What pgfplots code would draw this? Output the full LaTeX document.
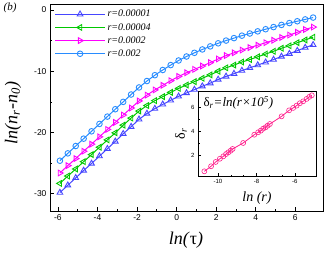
\documentclass[border=0pt]{standalone}
\usepackage{fontspec}
\setmainfont{Liberation Serif}
\setsansfont{Liberation Sans}
\usepackage{pgfplots}
\pgfplotsset{compat=1.18}
\definecolor{cB}{RGB}{70,70,255}
\definecolor{cG}{RGB}{0,200,0}
\definecolor{cM}{RGB}{255,0,255}
\definecolor{cC}{RGB}{40,140,255}
\definecolor{cP}{RGB}{255,30,140}
\begin{document}
\begin{tikzpicture}
\useasboundingbox (0pt,0pt) rectangle (329pt,252pt);
\begin{axis}[
  at={(50pt,41pt)}, anchor=south west, scale only axis,
  width=273pt, height=206pt,
  xmin=-6.4, xmax=7.4, ymin=-32.8, ymax=0.8,
  xtick={-6,-4,-2,0,2,4,6}, ytick={-30,-20,-10,0},
  minor x tick num=1, minor y tick num=1,
  xtick pos=bottom, ytick pos=left, tick align=inside,
  major tick length=4pt, minor tick length=2pt,
  tick style={black, line width=0.7pt},
  axis line style={line width=1pt},
  ticklabel style={font=\sffamily\fontsize{8.5}{9}\selectfont},
  /pgf/number format/assume math mode=true,
  legend style={at={(0.005,0.995)}, anchor=north west, draw=none, fill=none,
    font=\itshape\fontsize{10}{11}\selectfont, row sep=1pt},
  legend cell align=left,
  legend image code/.code={\draw[mark repeat=2,mark phase=2] plot coordinates {(0pt,0pt)(25pt,0pt)(50pt,0pt)};},
]
\addplot[cB, line width=1pt, mark=triangle, mark size=3.3pt, mark options={solid, line width=0.9pt}] coordinates {
(-5.9,-29.8)(-5.5,-28.6)(-5.1,-27.4)(-4.7,-26.2)(-4.3,-25.05)(-3.9,-23.85)(-3.5,-22.65)(-3.1,-21.45)(-2.7,-20.2)(-2.3,-19.05)(-1.9,-17.85)(-1.5,-16.9)(-1.1,-16.1)(-0.7,-15.4)(-0.3,-14.75)(0.1,-14.1)(0.5,-13.55)(0.9,-13.0)(1.3,-12.45)(1.7,-11.95)(2.1,-11.35)(2.5,-10.85)(2.9,-10.4)(3.3,-9.9)(3.7,-9.45)(4.1,-9.0)(4.5,-8.55)(4.9,-8.1)(5.3,-7.6)(5.7,-7.15)(6.1,-6.65)(6.5,-6.15)(6.9,-5.7)};
\addlegendentry{r=0.00001}
\addplot[cG, line width=1pt, mark=triangle, mark size=3.3pt, mark options={solid, rotate=90, line width=0.9pt}] coordinates {
(-5.9,-28.3)(-5.5,-27.1)(-5.1,-25.95)(-4.7,-24.75)(-4.3,-23.6)(-3.9,-22.4)(-3.5,-21.2)(-3.1,-20.05)(-2.7,-18.8)(-2.3,-17.65)(-1.9,-16.5)(-1.5,-15.6)(-1.1,-14.8)(-0.7,-14.15)(-0.3,-13.45)(0.1,-12.8)(0.5,-12.25)(0.9,-11.7)(1.3,-11.15)(1.7,-10.6)(2.1,-10.0)(2.5,-9.45)(2.9,-9.0)(3.3,-8.5)(3.7,-8.1)(4.1,-7.65)(4.5,-7.2)(4.9,-6.75)(5.3,-6.25)(5.7,-5.85)(6.1,-5.35)(6.5,-4.9)(6.9,-4.45)};
\addlegendentry{r=0.00004}
\addplot[cM, line width=1pt, mark=triangle, mark size=3.3pt, mark options={solid, rotate=-90, line width=0.9pt}] coordinates {
(-5.9,-26.6)(-5.5,-25.4)(-5.1,-24.25)(-4.7,-23.05)(-4.3,-21.9)(-3.9,-20.7)(-3.5,-19.5)(-3.1,-18.35)(-2.7,-17.15)(-2.3,-16.0)(-1.9,-14.85)(-1.5,-13.9)(-1.1,-13.05)(-0.7,-12.3)(-0.3,-11.55)(0.1,-10.85)(0.5,-10.25)(0.9,-9.7)(1.3,-9.15)(1.7,-8.6)(2.1,-8.0)(2.5,-7.45)(2.9,-7.0)(3.3,-6.55)(3.7,-6.15)(4.1,-5.75)(4.5,-5.35)(4.9,-4.95)(5.3,-4.5)(5.7,-4.1)(6.1,-3.65)(6.5,-3.2)(6.9,-2.8)};
\addlegendentry{r=0.0002}
\addplot[cC, line width=1pt, mark=o, mark size=2.8pt, mark options={solid, line width=0.9pt}] coordinates {
(-5.9,-24.6)(-5.5,-23.4)(-5.1,-22.2)(-4.7,-21.0)(-4.3,-19.8)(-3.9,-18.6)(-3.5,-17.4)(-3.1,-16.2)(-2.7,-15.0)(-2.3,-13.8)(-1.9,-12.65)(-1.5,-11.6)(-1.1,-10.65)(-0.7,-9.8)(-0.3,-9.0)(0.1,-8.25)(0.5,-7.6)(0.9,-7.0)(1.3,-6.45)(1.7,-5.95)(2.1,-5.45)(2.5,-5.0)(2.9,-4.6)(3.3,-4.2)(3.7,-3.85)(4.1,-3.5)(4.5,-3.15)(4.9,-2.8)(5.3,-2.45)(5.7,-2.15)(6.1,-1.85)(6.5,-1.55)(6.9,-1.25)};
\addlegendentry{r=0.002}
\end{axis}
\begin{axis}[
  at={(198pt,76pt)}, anchor=south west, scale only axis,
  width=118pt, height=85pt,
  xmin=-11.04, xmax=-4.9, ymin=0.25, ymax=7.33,
  xtick={-10,-8,-6}, ytick={2,4,6},
  minor x tick num=2, minor y tick num=1,
  xtick pos=bottom, ytick pos=left, tick align=inside,
  major tick length=3pt, minor tick length=1.5pt,
  tick style={black, line width=0.5pt},
  axis line style={line width=0.9pt},
  axis background/.style={fill=white},
  ticklabel style={font=\sffamily\fontsize{6}{7}\selectfont},
  /pgf/number format/assume math mode=true,
]
\addplot[cP, line width=0.8pt, mark=o, mark size=2.5pt, mark options={solid, line width=0.6pt}] coordinates {
(-10.71,0.64)(-10.36,1.06)(-10.12,1.42)(-9.90,1.69)(-9.72,1.89)(-9.58,2.08)(-9.46,2.22)(-9.34,2.36)(-9.24,2.5)(-8.69,3.0)(-8.11,3.69)(-7.91,3.89)(-7.77,4.03)(-7.65,4.19)(-7.52,4.31)(-7.42,4.44)(-7.30,4.58)(-6.69,5.22)(-6.30,5.72)(-6.09,5.92)(-5.91,6.11)(-5.74,6.31)(-5.57,6.47)(-5.39,6.67)(-5.25,6.84)(-5.12,6.97)};
\end{axis}
\node[font=\itshape\fontsize{11}{12}\selectfont] at (10pt,244pt) {(b)};
\node[rotate=90, font=\fontsize{18}{20}\selectfont] at (13pt,139pt) {\textit{ln(n}\textsubscript{\textit{r}}\textit{-n}\textsubscript{\textit{0}}\textit{)}};
\node[font=\fontsize{18}{20}\selectfont] at (186pt,12pt) {\textit{ln(}τ\textit{)}};
\node[font=\fontsize{14}{16}\selectfont] at (257pt,54pt) {\textit{ln (r)}};
\node[rotate=90, font=\fontsize{14}{16}\selectfont] at (181pt,118pt) {δ\textsubscript{\textit{r}}};
\node[anchor=west, font=\fontsize{13}{15}\selectfont] at (200pt,149pt) {δ\textsubscript{\textit{r}}\textit{=ln(r×10}\textsuperscript{\textit{5}}\textit{)}};
\end{tikzpicture}
\end{document}
